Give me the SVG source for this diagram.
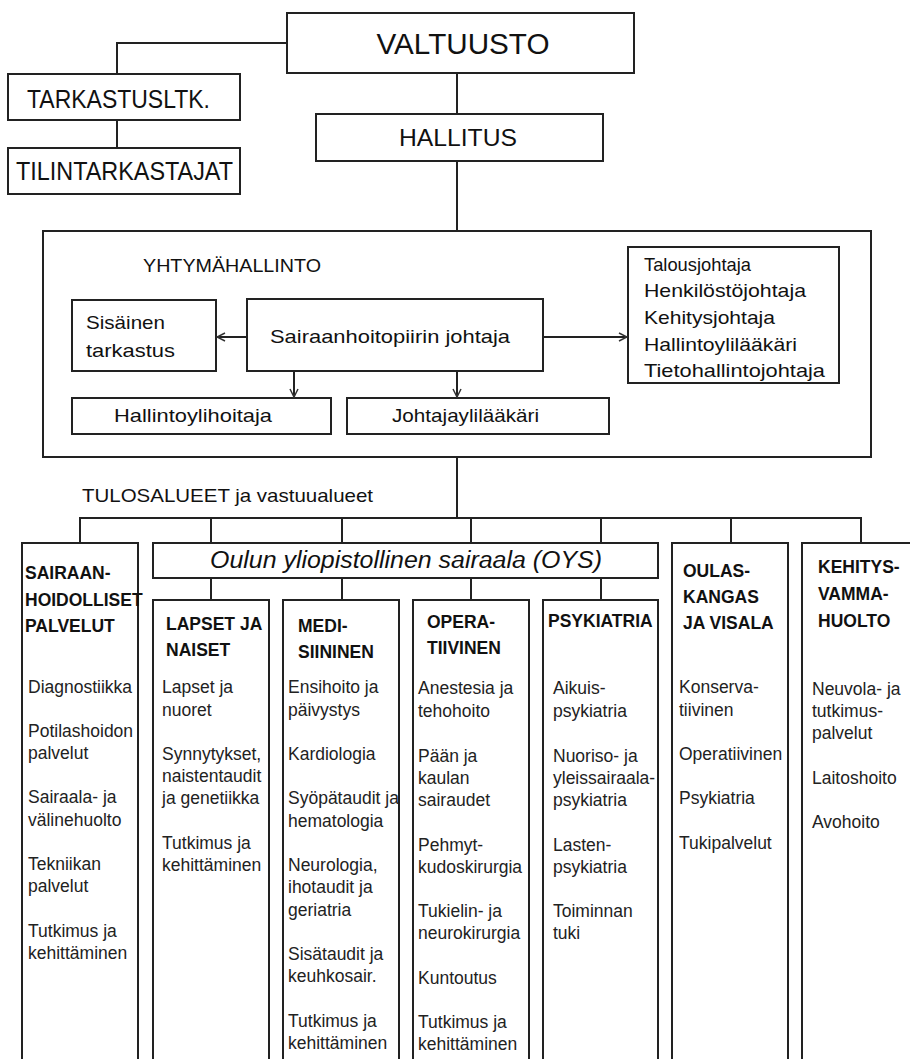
<svg xmlns="http://www.w3.org/2000/svg" width="910" height="1059" viewBox="0 0 910 1059">
<style>
.box{fill:#fff;stroke:#222;stroke-width:2}
.frame{fill:none;stroke:#222;stroke-width:2}
.ln{fill:none;stroke:#222;stroke-width:2}
.arr{fill:none;stroke:#222;stroke-width:2}
text{font-family:"Liberation Sans",Arial,sans-serif;fill:#111}
.big{font-size:29px}
.h1{font-size:25px}
.h2{font-size:24px}
.mid{font-size:19px}
.hd{font-size:17.5px;font-weight:bold}
.bd{font-size:17.5px;fill:#222}
.it{font-size:23px;font-style:italic}
</style>
<defs>
<marker id="ah" viewBox="0 0 10 10" refX="9" refY="5" markerWidth="10" markerHeight="10" markerUnits="userSpaceOnUse" orient="auto">
<path d="M1,1 L9,5 L1,9" fill="none" stroke="#333" stroke-width="1.5"/>
</marker>
</defs>
<g id="valtuusto">
<rect class="box" x="287" y="13" width="347" height="60"/>
<text class="big" x="463" y="54" text-anchor="middle" textLength="173" lengthAdjust="spacingAndGlyphs">VALTUUSTO</text>
</g>
<g id="tarkastusltk">
<rect class="box" x="8" y="74" width="232" height="46"/>
<text class="h1" x="27" y="108" textLength="183" lengthAdjust="spacingAndGlyphs">TARKASTUSLTK.</text>
</g>
<g id="tilintarkastajat">
<rect class="box" x="8" y="148" width="232" height="46"/>
<text class="h1" x="16" y="180" textLength="217" lengthAdjust="spacingAndGlyphs">TILINTARKASTAJAT</text>
</g>
<g id="hallitus">
<rect class="box" x="316" y="114" width="287" height="47"/>
<text class="h2" x="458" y="146" text-anchor="middle" textLength="118" lengthAdjust="spacingAndGlyphs">HALLITUS</text>
</g>
<g id="yhtymahallinto">
<rect class="frame" x="43" y="231" width="828" height="226"/>
<text class="mid" x="143" y="272" textLength="178" lengthAdjust="spacingAndGlyphs">YHTYMÄHALLINTO</text>
</g>
<g id="sisainen">
<rect class="box" x="72" y="300" width="144" height="71"/>
<text class="mid" x="86" y="329" textLength="79" lengthAdjust="spacingAndGlyphs">Sisäinen</text>
<text class="mid" x="86" y="357" textLength="89" lengthAdjust="spacingAndGlyphs">tarkastus</text>
</g>
<g id="johtaja">
<rect class="box" x="247" y="299" width="296" height="72"/>
<text class="mid" x="270" y="343" textLength="240" lengthAdjust="spacingAndGlyphs">Sairaanhoitopiirin johtaja</text>
</g>
<g id="talous">
<rect class="box" x="628" y="247" width="211" height="136"/>
<text class="mid" x="644" y="271" textLength="107" lengthAdjust="spacingAndGlyphs">Talousjohtaja</text>
<text class="mid" x="644" y="297" textLength="162" lengthAdjust="spacingAndGlyphs">Henkilöstöjohtaja</text>
<text class="mid" x="644" y="324" textLength="131" lengthAdjust="spacingAndGlyphs">Kehitysjohtaja</text>
<text class="mid" x="644" y="351" textLength="153" lengthAdjust="spacingAndGlyphs">Hallintoylilääkäri</text>
<text class="mid" x="644" y="377" textLength="181" lengthAdjust="spacingAndGlyphs">Tietohallintojohtaja</text>
</g>
<g id="hallintoylihoitaja">
<rect class="box" x="72" y="398" width="259" height="36"/>
<text class="mid" x="114" y="422" textLength="158" lengthAdjust="spacingAndGlyphs">Hallintoylihoitaja</text>
</g>
<g id="johtajaylilaakari">
<rect class="box" x="347" y="398" width="262" height="36"/>
<text class="mid" x="392" y="422" textLength="147" lengthAdjust="spacingAndGlyphs">Johtajaylilääkäri</text>
</g>
<g id="tulosalueet">
<text class="mid" x="82" y="502" textLength="291" lengthAdjust="spacingAndGlyphs">TULOSALUEET ja vastuualueet</text>
</g>
<g id="sairaanhoidolliset">
<rect class="box" x="22" y="543" width="116" height="540"/>
<text class="hd" x="25" y="579">SAIRAAN-</text>
<text class="hd" x="25" y="606">HOIDOLLISET</text>
<text class="hd" x="25" y="632">PALVELUT</text>
<text class="bd" x="28" y="693">Diagnostiikka</text>
<text class="bd" x="28" y="737">Potilashoidon</text>
<text class="bd" x="28" y="759">palvelut</text>
<text class="bd" x="28" y="803">Sairaala- ja</text>
<text class="bd" x="28" y="826">välinehuolto</text>
<text class="bd" x="28" y="870">Tekniikan</text>
<text class="bd" x="28" y="892">palvelut</text>
<text class="bd" x="28" y="937">Tutkimus ja</text>
<text class="bd" x="28" y="959">kehittäminen</text>
</g>
<g id="oys">
<rect class="box" x="153" y="543" width="505" height="35"/>
<text class="it" x="210" y="568" textLength="392" lengthAdjust="spacingAndGlyphs">Oulun yliopistollinen sairaala (OYS)</text>
</g>
<g id="lapset">
<rect class="box" x="153" y="600" width="116" height="480"/>
<text class="hd" x="166" y="630">LAPSET JA</text>
<text class="hd" x="166" y="656">NAISET</text>
<text class="bd" x="162" y="693">Lapset ja</text>
<text class="bd" x="162" y="716">nuoret</text>
<text class="bd" x="162" y="760">Synnytykset,</text>
<text class="bd" x="162" y="782">naistentaudit</text>
<text class="bd" x="162" y="804">ja genetiikka</text>
<text class="bd" x="162" y="849">Tutkimus ja</text>
<text class="bd" x="162" y="871">kehittäminen</text>
</g>
<g id="medisiininen">
<rect class="box" x="283" y="600" width="116" height="480"/>
<text class="hd" x="298" y="632">MEDI-</text>
<text class="hd" x="298" y="658">SIININEN</text>
<text class="bd" x="288" y="693">Ensihoito ja</text>
<text class="bd" x="288" y="716">päivystys</text>
<text class="bd" x="288" y="760">Kardiologia</text>
<text class="bd" x="288" y="804">Syöpätaudit ja</text>
<text class="bd" x="288" y="827">hematologia</text>
<text class="bd" x="288" y="871">Neurologia,</text>
<text class="bd" x="288" y="893">ihotaudit ja</text>
<text class="bd" x="288" y="916">geriatria</text>
<text class="bd" x="288" y="960">Sisätaudit ja</text>
<text class="bd" x="288" y="982">keuhkosair.</text>
<text class="bd" x="288" y="1027">Tutkimus ja</text>
<text class="bd" x="288" y="1049">kehittäminen</text>
</g>
<g id="operatiivinen">
<rect class="box" x="413" y="600" width="116" height="480"/>
<text class="hd" x="427" y="628">OPERA-</text>
<text class="hd" x="427" y="654">TIIVINEN</text>
<text class="bd" x="418" y="694">Anestesia ja</text>
<text class="bd" x="418" y="717">tehohoito</text>
<text class="bd" x="418" y="762">Pään ja</text>
<text class="bd" x="418" y="784">kaulan</text>
<text class="bd" x="418" y="806">sairaudet</text>
<text class="bd" x="418" y="851">Pehmyt-</text>
<text class="bd" x="418" y="873">kudoskirurgia</text>
<text class="bd" x="418" y="917">Tukielin- ja</text>
<text class="bd" x="418" y="939">neurokirurgia</text>
<text class="bd" x="418" y="984">Kuntoutus</text>
<text class="bd" x="418" y="1028">Tutkimus ja</text>
<text class="bd" x="418" y="1050">kehittäminen</text>
</g>
<g id="psykiatria">
<rect class="box" x="543" y="600" width="115" height="480"/>
<text class="hd" x="548" y="627">PSYKIATRIA</text>
<text class="bd" x="553" y="694">Aikuis-</text>
<text class="bd" x="553" y="717">psykiatria</text>
<text class="bd" x="553" y="762">Nuoriso- ja</text>
<text class="bd" x="553" y="784">yleissairaala-</text>
<text class="bd" x="553" y="806">psykiatria</text>
<text class="bd" x="553" y="851">Lasten-</text>
<text class="bd" x="553" y="873">psykiatria</text>
<text class="bd" x="553" y="917">Toiminnan</text>
<text class="bd" x="553" y="939">tuki</text>
</g>
<g id="oulaskangas">
<rect class="box" x="672" y="543" width="116" height="540"/>
<text class="hd" x="683" y="577">OULAS-</text>
<text class="hd" x="683" y="603">KANGAS</text>
<text class="hd" x="683" y="629">JA VISALA</text>
<text class="bd" x="679" y="693">Konserva-</text>
<text class="bd" x="679" y="716">tiivinen</text>
<text class="bd" x="679" y="760">Operatiivinen</text>
<text class="bd" x="679" y="804">Psykiatria</text>
<text class="bd" x="679" y="849">Tukipalvelut</text>
</g>
<g id="kehitysvammahuolto">
<rect class="box" x="802" y="543" width="120" height="540"/>
<text class="hd" x="818" y="573">KEHITYS-</text>
<text class="hd" x="818" y="600">VAMMA-</text>
<text class="hd" x="818" y="627">HUOLTO</text>
<text class="bd" x="812" y="695">Neuvola- ja</text>
<text class="bd" x="812" y="717">tutkimus-</text>
<text class="bd" x="812" y="739">palvelut</text>
<text class="bd" x="812" y="784">Laitoshoito</text>
<text class="bd" x="812" y="828">Avohoito</text>
</g>
<g id="connectors">
<polyline class="ln" points="287,43 117,43 117,74"/>
<line class="ln" x1="117" y1="120" x2="117" y2="148"/>
<line class="ln" x1="457" y1="73" x2="457" y2="114"/>
<line class="ln" x1="457" y1="161" x2="457" y2="231"/>
<line class="ln" x1="457" y1="457" x2="457" y2="518"/>
<line class="ln" x1="79" y1="518" x2="862" y2="518"/>
<line class="ln" x1="80" y1="518" x2="80" y2="543"/>
<line class="ln" x1="211" y1="518" x2="211" y2="543"/>
<line class="ln" x1="342" y1="518" x2="342" y2="543"/>
<line class="ln" x1="471" y1="518" x2="471" y2="543"/>
<line class="ln" x1="601" y1="518" x2="601" y2="543"/>
<line class="ln" x1="731" y1="518" x2="731" y2="543"/>
<line class="ln" x1="861" y1="518" x2="861" y2="543"/>
<line class="ln" x1="211" y1="578" x2="211" y2="600"/>
<line class="ln" x1="342" y1="578" x2="342" y2="600"/>
<line class="ln" x1="471" y1="578" x2="471" y2="600"/>
<line class="ln" x1="601" y1="578" x2="601" y2="600"/>
<line class="arr" x1="247" y1="337" x2="217" y2="337" marker-end="url(#ah)"/>
<line class="arr" x1="543" y1="337" x2="627" y2="337" marker-end="url(#ah)"/>
<line class="arr" x1="294" y1="371" x2="294" y2="397" marker-end="url(#ah)"/>
<line class="arr" x1="457" y1="371" x2="457" y2="397" marker-end="url(#ah)"/>
</g>
</svg>
